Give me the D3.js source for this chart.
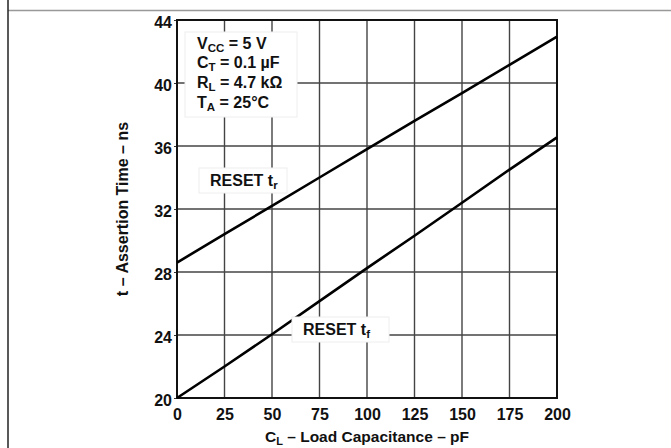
<!DOCTYPE html>
<html><head><meta charset="utf-8">
<script src="https://cdn.jsdelivr.net/npm/d3@7"></script>
<style>
body{margin:0;background:#fff;}
svg{display:block;}
svg text{font-family:"Liberation Sans",Arial,Helvetica,sans-serif;font-weight:bold;}
</style></head>
<body><svg id="c" width="671" height="448"></svg>
<script>
const capacitance = [0, 25, 50, 75, 100, 125, 150, 175, 200];
const resetTr = [28.6, 30.4, 32.2, 34.0, 35.8, 37.6, 39.35, 41.15, 42.95];
const resetTf = [20.0, 22.0, 24.05, 26.15, 28.25, 30.3, 32.4, 34.5, 36.55];
const xTicks = [0, 25, 50, 75, 100, 125, 150, 175, 200];
const yTicks = [20, 24, 28, 32, 36, 40, 44];

const svg = d3.select("#c");
const x = d3.scaleLinear().domain([0, 200]).range([177, 557]);
const y = d3.scaleLinear().domain([20, 44]).range([398, 20]);

// page frame
svg.append("line").attr("x1", 8).attr("x2", 671).attr("y1", 10.5).attr("y2", 10.5)
  .attr("stroke", "#999").attr("stroke-width", 1.5);
svg.append("line").attr("x1", 8).attr("x2", 8).attr("y1", 0).attr("y2", 448)
  .attr("stroke", "#222").attr("stroke-width", 1.5);

// grid
const g = svg.append("g");
g.selectAll(".vg").data(xTicks.slice(1, -1)).join("line")
  .attr("x1", d => x(d)).attr("x2", d => x(d)).attr("y1", y(44)).attr("y2", y(20))
  .attr("stroke", "#444").attr("stroke-width", 1.4);
g.selectAll(".hg").data(yTicks.slice(1, -1)).join("line")
  .attr("x1", x(0)).attr("x2", x(200)).attr("y1", d => y(d)).attr("y2", d => y(d))
  .attr("stroke", "#444").attr("stroke-width", 1.4);

// axes
const xAxis = d3.axisBottom(x).tickValues(xTicks).tickSize(0).tickPadding(11);
const yAxis = d3.axisLeft(y).tickValues(yTicks).tickSize(3).tickPadding(2);
const xa = svg.append("g").attr("transform", `translate(0,${y(20)})`).call(xAxis);
const ya = svg.append("g").attr("transform", `translate(${x(0)},0)`).call(yAxis);
[xa, ya].forEach(a => {
  a.attr("font-size", 16).attr("font-family", "Liberation Sans, Arial, sans-serif").attr("font-weight", "bold");
  a.select(".domain").remove();
  a.selectAll("text").attr("fill", "#111");
  a.selectAll("line").attr("stroke", "#333");
});
ya.selectAll("text").attr("dy", "0.45em");

// frame
svg.append("rect").attr("x", x(0)).attr("y", y(44)).attr("width", x(200) - x(0)).attr("height", y(20) - y(44))
  .attr("fill", "none").attr("stroke", "#111").attr("stroke-width", 2);

// lines
const line = d3.line().x((d, i) => x(capacitance[i])).y(d => y(d));
svg.append("path").datum(resetTr).attr("d", line).attr("fill", "none").attr("stroke", "#000").attr("stroke-width", 2.6);
svg.append("path").datum(resetTf).attr("d", line).attr("fill", "none").attr("stroke", "#000").attr("stroke-width", 2.6);

// conditions box
svg.append("rect").attr("x", 185).attr("y", 32).attr("width", 112).attr("height", 85)
  .attr("fill", "#fff").attr("stroke", "#eee");
const cond = [
  ["V", "CC", " = 5 V"],
  ["C", "T", " = 0.1 \u00b5F"],
  ["R", "L", " = 4.7 k\u03a9"],
  ["T", "A", " = 25\u00b0C"]
];
cond.forEach((c, i) => {
  const t = svg.append("text").attr("x", 197).attr("y", 48.5 + i * 19.7).attr("font-size", 16).attr("fill", "#111");
  t.append("tspan").text(c[0]);
  t.append("tspan").attr("dy", 3).attr("font-size", 11.5).text(c[1]);
  t.append("tspan").attr("dy", -3).text(c[2]);
});

// series labels
function lbl(bx, by, bw, sub) {
  svg.append("rect").attr("x", bx).attr("y", by).attr("width", bw).attr("height", 25)
    .attr("fill", "#fff").attr("stroke", "#eee");
  const t = svg.append("text").attr("x", bx + 11).attr("y", by + 18).attr("font-size", 16).attr("fill", "#111");
  t.append("tspan").text("RESET t");
  t.append("tspan").attr("dy", 3).attr("font-size", 11.5).text(sub);
}
lbl(199, 168, 88, "r");
lbl(292, 317, 97, "f");

// axis titles
const xt = svg.append("text").attr("x", 367).attr("y", 442).attr("text-anchor", "middle").attr("font-size", 15.5).attr("fill", "#111");
xt.append("tspan").text("C");
xt.append("tspan").attr("dy", 3).attr("font-size", 11).text("L");
xt.append("tspan").attr("dy", -3).text(" \u2013 Load Capacitance \u2013 pF");

svg.append("text").attr("transform", `translate(128,209) rotate(-90)`).attr("text-anchor", "middle")
  .attr("font-size", 16).attr("fill", "#111").text("t \u2013 Assertion Time \u2013 ns");
</script></body></html>
